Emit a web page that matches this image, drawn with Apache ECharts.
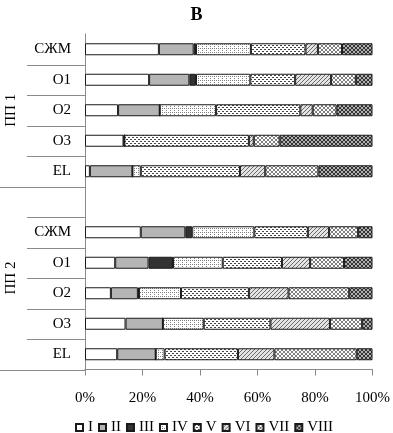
<!DOCTYPE html>
<html>
<head>
<meta charset="utf-8">
<script src="https://cdn.jsdelivr.net/npm/echarts@6/dist/echarts.min.js"></script>
<style>
  html, body { margin: 0; padding: 0; background: #fff; }
  #main { width: 393px; height: 433px; }
</style>
</head>
<body>
<div id="main"></div>
<script>
// 类别（上组 ПП 1，空行，下组 ПП 2）
var categories = ['СЖМ', 'O1', 'O2', 'O3', 'EL', '', 'СЖМ', 'O1', 'O2', 'O3', 'EL'];
var groupNames = ['ПП 1', 'ПП 2'];
var seriesNames = ['I', 'II', 'III', 'IV', 'V', 'VI', 'VII', 'VIII'];
var xTicks = [0, 20, 40, 60, 80, 100];

// 各系列百分比
var dataI    = [25.7, 22.3, 11.5, 13.4,  1.7, null, 19.4, 10.5,  9.0, 14.1, 11.2];
var dataII   = [12.1, 14.0, 14.5,  0.3, 14.8, null, 15.5, 11.6,  9.4, 13.0, 13.4];
var dataIII  = [ 0.8,  2.3,  0.0,  0.0,  0.0, null,  2.4,  8.5,  0.4,  0.0,  0.0];
var dataIV   = [19.1, 18.9, 19.6,  0.0,  2.9, null, 21.6, 17.3, 14.6, 14.2,  3.1];
var dataV    = [19.0, 15.6, 29.3, 43.3, 34.5, null, 18.6, 20.6, 23.6, 23.2, 25.5];
var dataVI   = [ 4.3, 12.5,  4.3,  1.7,  8.8, null,  7.4,  9.8, 13.8, 20.7, 12.7];
var dataVII  = [ 8.4,  8.6,  8.3,  9.0, 18.5, null, 10.1, 11.8, 21.1, 11.2, 28.6];
var dataVIII = [10.6,  5.8, 12.5, 32.3, 18.8, null,  5.0,  9.9,  8.1,  3.6,  5.5];
var allData = [dataI, dataII, dataIII, dataIV, dataV, dataVI, dataVII, dataVIII];

var FONT = 'Liberation Serif';
var AXIS_GRAY = '#8a8a8a';

//填充图案
function makePattern(size, bg, fg, pts) {
    var c = document.createElement('canvas');
    c.width = size;
    c.height = size;
    var ctx = c.getContext('2d');
    ctx.fillStyle = bg;
    ctx.fillRect(0, 0, size, size);
    ctx.fillStyle = fg;
    for (var i = 0; i < pts.length; i++) {
        ctx.fillRect(pts[i][0], pts[i][1], 1, 1);
    }
    return { image: c, repeat: 'repeat' };
}
var crossPts = [[0, 0], [1, 1], [2, 2], [3, 3], [3, 0], [2, 1], [1, 2], [0, 3]];
var fills = [
    '#ffffff',
    '#b5b5b5',
    '#333333',
    makePattern(4, '#ffffff', '#808080', [[0, 0], [2, 2], [2, 0]]),
    makePattern(4, '#ffffff', '#444444', [[0, 1], [1, 1], [2, 3], [3, 3]]),
    makePattern(4, '#e4e4e4', '#6a6a6a', [[0, 3], [1, 2], [2, 1], [3, 0]]),
    makePattern(4, '#ffffff', '#808080', crossPts),
    makePattern(4, '#b0b0b0', '#333333', crossPts)
];

var myChart = echarts.init(document.getElementById('main'));

var series = [];
for (var i = 0; i < seriesNames.length; i++) {
    series.push({
        name: seriesNames[i],
        type: 'bar',
        stack: 'total',
        barWidth: 12,
        data: allData[i],
        itemStyle: {
            color: fills[i],
            borderColor: '#1a1a1a',
            borderWidth: 1
        },
        emphasis: { disabled: true }
    });
}

var option = {
    animation: false,
    backgroundColor: '#fff',
    title: {
        text: 'В',
        left: 'center',
        top: 1,
        textStyle: { fontFamily: FONT, fontSize: 18, fontWeight: 'bold', color: '#000' }
    },
    legend: {
        data: seriesNames,
        left: 70,
        top: 415,
        icon: 'rect',
        itemWidth: 7,
        itemHeight: 7,
        itemGap: 5,
        textStyle: { fontFamily: FONT, fontSize: 15, color: '#000' }
    },
    grid: {
        left: 85,
        right: 19,
        top: 34,
        bottom: 63.5
    },
    xAxis: {
        type: 'value',
        min: xTicks[0],
        max: xTicks[xTicks.length - 1],
        interval: 20,
        axisLine: { show: true, lineStyle: { color: AXIS_GRAY, width: 1 } },
        axisTick: { show: true, length: 6, lineStyle: { color: AXIS_GRAY } },
        splitLine: { show: false },
        axisLabel: {
            margin: 21,
            fontFamily: FONT,
            fontSize: 15,
            color: '#000',
            formatter: '{value}%'
        }
    },
    yAxis: {
        type: 'category',
        inverse: true,
        data: categories,
        axisLine: { show: true, lineStyle: { color: AXIS_GRAY, width: 1 } },
        axisTick: { show: false },
        axisLabel: {
            margin: 14,
            fontFamily: FONT,
            fontSize: 15,
            color: '#000',
            interval: 0
        }
    },
    series: series
};
myChart.setOption(option);

// 左侧分组线和分组名
function drawGroups() {
    var c0 = myChart.convertToPixel({ yAxisIndex: 0 }, 0);
    var c1 = myChart.convertToPixel({ yAxisIndex: 0 }, 1);
    var band = c1 - c0;
    var x0 = myChart.convertToPixel({ xAxisIndex: 0 }, 0);
    var els = [];
    for (var k = 1; k <= categories.length; k++) {
        var y = Math.round(c0 + band * (k - 0.5)) + 0.5;
        var full = (categories[k] === '' || k === categories.length);
        els.push({
            type: 'line',
            shape: { x1: full ? 0 : 27, y1: y, x2: x0, y2: y },
            style: { stroke: AXIS_GRAY, lineWidth: 1 },
            silent: true
        });
    }
    var blank = categories.indexOf('');
    var top = c0 - band / 2;
    var mid = c0 + band * (blank - 0.5);
    var bottom = c0 + band * (categories.length - 0.5);
    var centers = [(top + mid) / 2, (mid + bottom) / 2];
    for (var g = 0; g < groupNames.length; g++) {
        els.push({
            type: 'text',
            x: 11,
            y: centers[g],
            rotation: Math.PI / 2,
            style: {
                text: groupNames[g],
                fontFamily: FONT,
                fontSize: 15,
                fill: '#000',
                align: 'center',
                verticalAlign: 'middle'
            },
            silent: true
        });
    }
    myChart.setOption({ graphic: els });
}
drawGroups();
</script>
</body>
</html>
